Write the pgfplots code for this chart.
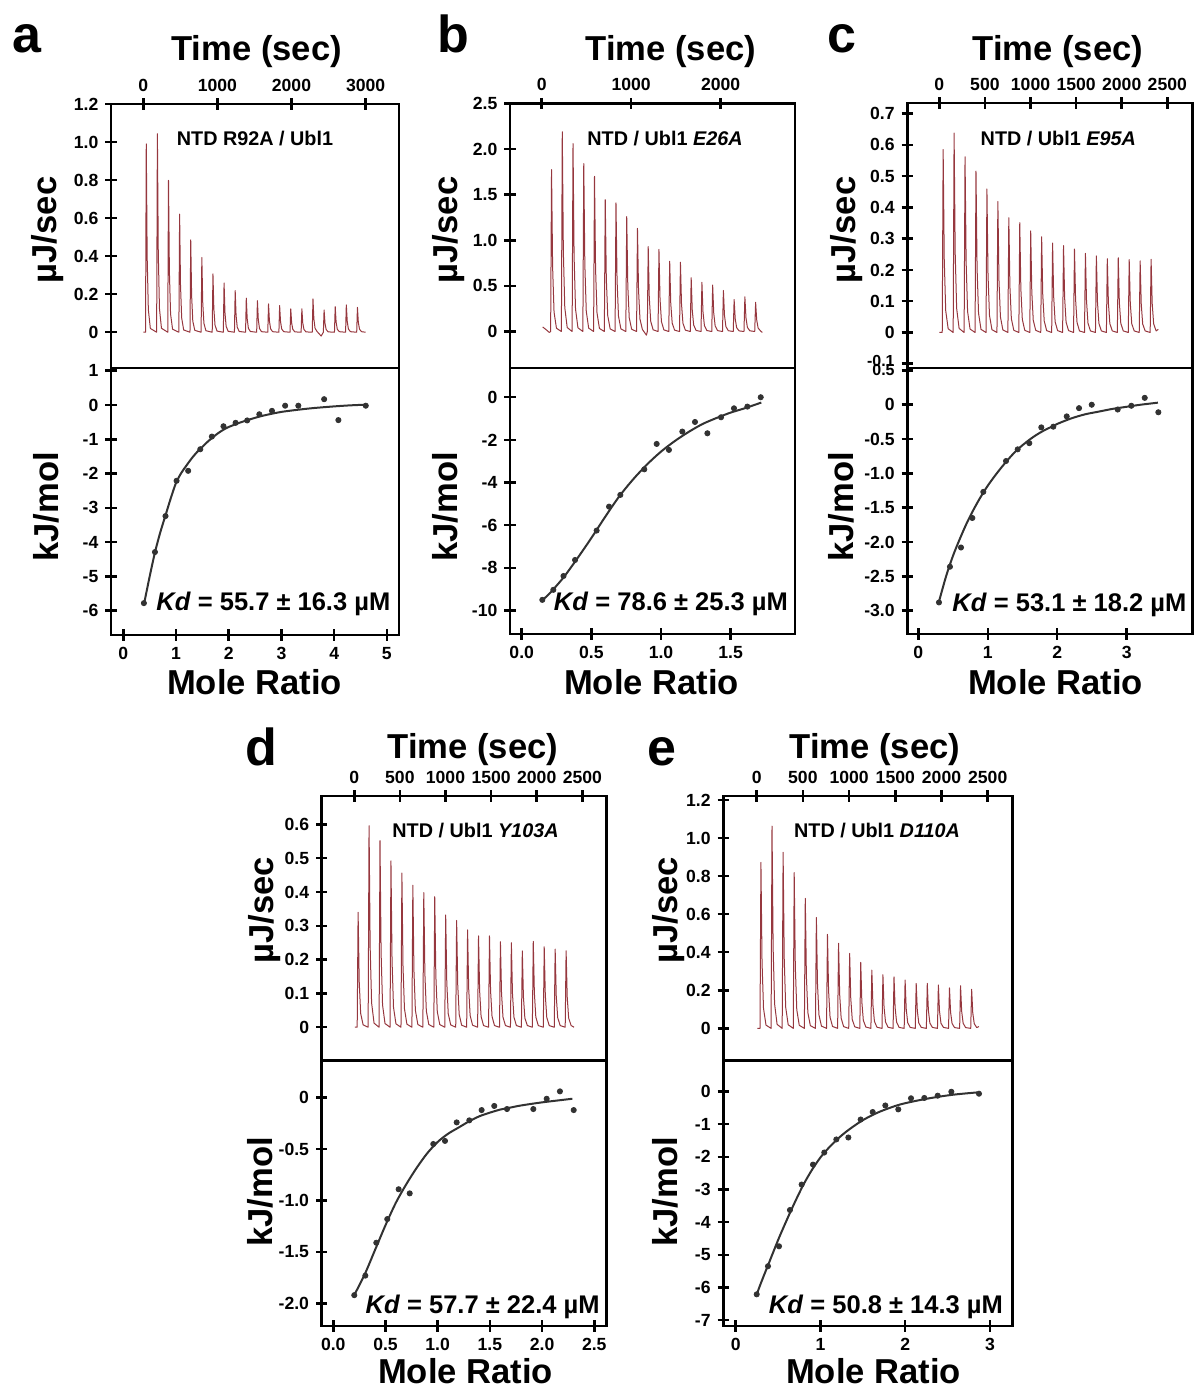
\documentclass[border=0pt]{standalone}
\usepackage{fontspec}
\setmainfont{Liberation Sans}
\usepackage{pgfplots}
\pgfplotsset{compat=1.18}

\definecolor{trace}{RGB}{150,55,62}
\definecolor{fitc}{RGB}{50,50,50}
\newcommand\tlf{\fontsize{8.8}{10}\selectfont\bfseries}
\newcommand\tls{\fontsize{8}{9}\selectfont\bfseries}
\newcommand\labf{\fontsize{17.3}{19}\selectfont\bfseries}
\newcommand\insf{\fontsize{9.9}{11}\selectfont\bfseries}
\newcommand\kdf{\fontsize{12.75}{14}\selectfont\bfseries}
\newcommand\letf{\fontsize{26}{28}\selectfont\bfseries}

\pgfplotsset{
  itc/.style={scale only axis, anchor=south west, scaled ticks=false,
    axis line style={line width=1.25pt},
    xtick style={draw=black, line width=1.25pt},
    ytick style={draw=black, line width=1.25pt},
    major tick length=5.6pt, tick align=center, ytick pos=left,
    tick label style={font=\tlf}},
  topax/.style={itc, xtick pos=right, xticklabel pos=right},
  botax/.style={itc, xtick pos=left, xticklabel pos=left},
  raw/.style={trace, line width=0.5pt, line join=round},
  pts/.style={only marks, mark=*, mark size=1.3pt, fitc},
  fit/.style={fitc, line width=1pt, smooth},
}

\begin{document}
\begin{tikzpicture}

% ---------- a ----------
\begin{axis}[topax, at={(55.5pt,-184pt)}, width=144pt, height=132pt,
  xmin=-436, xmax=3451, ymin=-0.188, ymax=1.2,
  xtick={0,1000,2000,3000}, xticklabels={0,1000,2000,3000},
  ytick={0,0.2,0.4,0.6,0.8,1.0,1.2}, yticklabels={0,0.2,0.4,0.6,0.8,1.0,1.2}]
\addplot[raw] coordinates {(0,0)
(30,0) (40,.99) (52,.396) (68,.119) (95,.02)
(180,0) (190,1.044) (202,.418) (218,.125) (245,.021)
(330,0) (340,.798) (352,.319) (368,.096) (395,.016)
(480,0) (490,.621) (502,.248) (518,.075) (545,.012)
(630,0) (640,.486) (652,.194) (668,.058) (695,.01)
(780,0) (790,.393) (802,.157) (818,.047) (845,.008)
(930,0) (940,.307) (952,.123) (968,.037) (995,.006)
(1080,0) (1090,.259) (1102,.104) (1118,.031) (1145,.005)
(1230,0) (1240,.219) (1252,.088) (1268,.026) (1295,.004)
(1380,0) (1390,.179) (1402,.072) (1418,.021) (1445,.004)
(1530,0) (1540,.166) (1552,.066) (1568,.02) (1595,.003)
(1680,0) (1690,.149) (1702,.06) (1718,.018) (1745,.003)
(1830,0) (1840,.14) (1852,.056) (1868,.017) (1895,.003)
(1980,0) (1990,.123) (2002,.049) (2018,.015) (2045,.002)
(2130,0) (2140,.123) (2152,.049) (2168,.015) (2195,.002)
(2280,0) (2290,.175) (2302,.07) (2318,.021) (2345,.004) (2400,-.02)
(2430,0) (2440,.117) (2452,.047) (2468,.014) (2495,.002)
(2580,0) (2590,.135) (2602,.054) (2618,.016) (2645,.003)
(2730,0) (2740,.144) (2752,.058) (2768,.017) (2795,.003)
(2880,0) (2890,.131) (2902,.052) (2918,.016) (2945,.003)
(3000,0)};
\end{axis}
\begin{axis}[botax, at={(55.5pt,-317.5pt)}, width=144pt, height=133.5pt,
  xmin=-0.234, xmax=5.23, ymin=-6.71, ymax=1.08,
  xtick={0,1,2,3,4,5}, xticklabels={0,1,2,3,4,5},
  ytick={-6,-5,-4,-3,-2,-1,0,1}, yticklabels={-6,-5,-4,-3,-2,-1,0,1}]
\addplot[fit] coordinates {(0.4,-5.75) (0.5,-5.0) (0.6,-4.3) (0.7,-3.72) (0.8,-3.22) (0.9,-2.72) (1.0,-2.27) (1.1,-1.98) (1.2,-1.76) (1.3,-1.55) (1.4,-1.37) (1.5,-1.22) (1.6,-1.07) (1.7,-0.94) (1.8,-0.82) (1.9,-0.72) (2.0,-0.64) (2.2,-0.52) (2.4,-0.42) (2.6,-0.33) (2.8,-0.26) (3.0,-0.2) (3.3,-0.14) (3.6,-0.09) (4.0,-0.04) (4.3,-0.01) (4.6,0.01)};
\addplot[pts] coordinates {(0.39,-5.78) (0.60,-4.29) (0.80,-3.24) (1.01,-2.21) (1.23,-1.92) (1.46,-1.29) (1.68,-0.92) (1.90,-0.62) (2.13,-0.52) (2.35,-0.45) (2.58,-0.27) (2.82,-0.17) (3.07,-0.02) (3.32,-0.02) (3.81,0.17) (4.08,-0.44) (4.60,-0.02)};
\end{axis}

% ---------- b ----------
\begin{axis}[topax, at={(255pt,-184pt)}, width=142.5pt, height=132.25pt,
  xmin=-354, xmax=2830, ymin=-0.40, ymax=2.5,
  xtick={0,1000,2000}, xticklabels={0,1000,2000},
  ytick={0,0.5,1.0,1.5,2.0,2.5}, yticklabels={0,0.5,1.0,1.5,2.0,2.5}]
\addplot[raw] coordinates {(11,.05) (50,.02) (85,-.01)
(100,0) (110,1.775) (122,.71) (138,.213) (165,.036)
(220,0) (230,2.19) (242,.876) (258,.263) (285,.044)
(340,0) (350,2.06) (362,.824) (378,.247) (405,.041)
(460,0) (470,1.84) (482,.736) (498,.221) (525,.037)
(580,0) (590,1.70) (602,.68) (618,.204) (645,.034)
(700,0) (710,1.445) (722,.578) (738,.173) (765,.029)
(820,0) (830,1.41) (842,.564) (858,.169) (885,.028)
(940,0) (950,1.26) (962,.504) (978,.151) (1005,.025)
(1060,0) (1070,1.13) (1082,.452) (1098,.136) (1125,.023) (1170,-.04)
(1180,0) (1190,.93) (1202,.372) (1218,.112) (1245,.019)
(1300,0) (1310,.90) (1322,.36) (1338,.108) (1365,.018)
(1420,0) (1430,.77) (1442,.308) (1458,.092) (1485,.015)
(1540,0) (1550,.76) (1562,.304) (1578,.091) (1605,.015)
(1660,0) (1670,.59) (1682,.236) (1698,.071) (1725,.012)
(1780,0) (1790,.54) (1802,.216) (1818,.065) (1845,.011)
(1900,0) (1910,.51) (1922,.204) (1938,.061) (1965,.01)
(2020,0) (2030,.45) (2042,.18) (2058,.054) (2085,.009)
(2140,0) (2150,.35) (2162,.14) (2178,.042) (2205,.007)
(2260,0) (2270,.38) (2282,.152) (2298,.046) (2325,.008)
(2380,0) (2390,.32) (2402,.128) (2418,.038) (2445,.006)
(2465,-.01)};
\end{axis}
\begin{axis}[botax, at={(255pt,-317pt)}, width=142.5pt, height=133pt,
  xmin=-0.084, xmax=1.962, ymin=-11.1, ymax=1.37,
  xtick={0,0.5,1,1.5}, xticklabels={0.0,0.5,1.0,1.5},
  ytick={-10,-8,-6,-4,-2,0}, yticklabels={-10,-8,-6,-4,-2,0}]
\addplot[fit] coordinates {(0.15,-9.5) (0.2,-9.2) (0.3,-8.45) (0.4,-7.55) (0.5,-6.6) (0.6,-5.6) (0.7,-4.65) (0.8,-3.85) (0.9,-3.15) (1.0,-2.55) (1.1,-2.05) (1.2,-1.62) (1.3,-1.25) (1.4,-0.97) (1.5,-0.72) (1.6,-0.52) (1.72,-0.25)};
\addplot[pts] coordinates {(0.148,-9.50) (0.227,-9.03) (0.30,-8.38) (0.383,-7.63) (0.538,-6.25) (0.627,-5.13) (0.708,-4.58) (0.88,-3.38) (0.969,-2.19) (1.057,-2.47) (1.153,-1.61) (1.244,-1.16) (1.333,-1.69) (1.431,-0.94) (1.524,-0.52) (1.62,-0.44) (1.716,0)};
\end{axis}

% ---------- c ----------
\begin{axis}[topax, at={(453.65pt,-184pt)}, width=142.5pt, height=132.5pt,
  xmin=-351, xmax=2774, ymin=-0.1136, ymax=0.734,
  yticklabel style={inner ysep=0.5pt},
  xtick={0,500,1000,1500,2000,2500}, xticklabels={0,500,1000,1500,2000,2500},
  ytick={-0.1,0,0.1,0.2,0.3,0.4,0.5,0.6,0.7}, yticklabels={\raisebox{3.3pt}{\tls -0.1},0,0.1,0.2,0.3,0.4,0.5,0.6,0.7}]
\addplot[raw] coordinates {(0,0)
(32,0) (42,.585) (54,.234) (70,.07) (97,.012)
(152,0) (162,.638) (174,.255) (190,.077) (217,.013)
(272,0) (282,.562) (294,.225) (310,.067) (337,.011)
(392,0) (402,.516) (414,.206) (430,.062) (457,.01)
(512,0) (522,.459) (534,.184) (550,.055) (577,.009)
(632,0) (642,.419) (654,.168) (670,.05) (697,.008)
(752,0) (762,.367) (774,.147) (790,.044) (817,.007)
(872,0) (882,.351) (894,.14) (910,.042) (937,.007)
(992,0) (1002,.325) (1014,.13) (1030,.039) (1057,.007)
(1112,0) (1122,.306) (1134,.122) (1150,.037) (1177,.006)
(1232,0) (1242,.286) (1254,.114) (1270,.034) (1297,.006)
(1352,0) (1362,.278) (1374,.111) (1390,.033) (1417,.006)
(1472,0) (1482,.267) (1494,.107) (1510,.032) (1537,.005)
(1592,0) (1602,.253) (1614,.101) (1630,.03) (1657,.005)
(1712,0) (1722,.245) (1734,.098) (1750,.029) (1777,.005)
(1832,0) (1842,.236) (1854,.094) (1870,.028) (1897,.005)
(1952,0) (1962,.239) (1974,.096) (1990,.029) (2017,.005)
(2072,0) (2082,.233) (2094,.093) (2110,.028) (2137,.005)
(2192,0) (2202,.229) (2214,.092) (2230,.027) (2257,.005)
(2312,0) (2322,.234) (2334,.094) (2350,.028) (2377,.005)
(2401,.01)};
\end{axis}
\begin{axis}[botax, at={(453.65pt,-317pt)}, width=142.5pt, height=133pt,
  xmin=-0.158, xmax=3.945, ymin=-3.34, ymax=0.535,
  yticklabel style={inner ysep=0.5pt},
  xtick={0,1,2,3}, xticklabels={0,1,2,3},
  ytick={-3,-2.5,-2,-1.5,-1,-0.5,0,0.5}, yticklabels={-3.0,-2.5,-2.0,-1.5,-1.0,-0.5,0,\raisebox{-2.8pt}{\tls 0.5}}]
\addplot[fit] coordinates {(0.3,-2.86) (0.4,-2.5) (0.5,-2.2) (0.6,-1.95) (0.7,-1.72) (0.8,-1.52) (0.9,-1.34) (1.0,-1.18) (1.1,-1.04) (1.2,-0.91) (1.3,-0.79) (1.4,-0.68) (1.5,-0.59) (1.6,-0.51) (1.7,-0.44) (1.8,-0.38) (1.9,-0.33) (2.0,-0.28) (2.2,-0.2) (2.4,-0.14) (2.6,-0.1) (2.8,-0.06) (3.0,-0.03) (3.2,0.0) (3.45,0.03)};
\addplot[pts] coordinates {(0.298,-2.88) (0.456,-2.36) (0.615,-2.08) (0.778,-1.65) (0.936,-1.27) (1.263,-0.82) (1.431,-0.65) (1.598,-0.56) (1.771,-0.33) (1.944,-0.32) (2.137,-0.17) (2.314,-0.05) (2.497,0.0) (2.871,-0.07) (3.067,-0.015) (3.26,0.10) (3.456,-0.11)};
\end{axis}

% ---------- d ----------
\begin{axis}[topax, at={(160.85pt,-530.35pt)}, width=142.5pt, height=132.35pt,
  xmin=-357, xmax=2767, ymin=-0.099, ymax=0.684,
  xtick={0,500,1000,1500,2000,2500}, xticklabels={0,500,1000,1500,2000,2500},
  ytick={0,0.1,0.2,0.3,0.4,0.5,0.6}, yticklabels={0,0.1,0.2,0.3,0.4,0.5,0.6}]
\addplot[raw] coordinates {(7,0)
(32,0) (42,.34) (54,.136) (70,.041) (97,.007)
(152,0) (162,.596) (174,.238) (190,.072) (217,.012)
(272,0) (282,.552) (294,.221) (310,.066) (337,.011)
(392,0) (402,.492) (414,.197) (430,.059) (457,.01)
(512,0) (522,.456) (534,.182) (550,.055) (577,.009)
(632,0) (642,.42) (654,.168) (670,.05) (697,.008)
(752,0) (762,.398) (774,.159) (790,.048) (817,.008)
(872,0) (882,.386) (894,.154) (910,.046) (937,.008)
(992,0) (1002,.332) (1014,.133) (1030,.04) (1057,.007)
(1112,0) (1122,.316) (1134,.126) (1150,.038) (1177,.006)
(1232,0) (1242,.288) (1254,.115) (1270,.035) (1297,.006)
(1352,0) (1362,.27) (1374,.108) (1390,.032) (1417,.005)
(1472,0) (1482,.27) (1494,.108) (1510,.032) (1537,.005)
(1592,0) (1602,.253) (1614,.101) (1630,.03) (1657,.005)
(1712,0) (1722,.25) (1734,.1) (1750,.03) (1777,.005)
(1832,0) (1842,.226) (1854,.09) (1870,.027) (1897,.005)
(1952,0) (1962,.254) (1974,.102) (1990,.03) (2017,.005)
(2072,0) (2082,.238) (2094,.095) (2110,.029) (2137,.005)
(2192,0) (2202,.231) (2214,.092) (2230,.028) (2257,.005)
(2312,0) (2322,.226) (2334,.09) (2350,.027) (2377,.005)
(2409,0)};
\end{axis}
\begin{axis}[botax, at={(160.85pt,-663pt)}, width=142.5pt, height=132.65pt,
  xmin=-0.111, xmax=2.619, ymin=-2.22, ymax=0.36,
  xtick={0,0.5,1,1.5,2,2.5}, xticklabels={0.0,0.5,1.0,1.5,2.0,2.5},
  ytick={-2,-1.5,-1,-0.5,0}, yticklabels={-2.0,-1.5,-1.0,-0.5,0}]
\addplot[fit] coordinates {(0.2,-1.92) (0.3,-1.72) (0.4,-1.48) (0.5,-1.24) (0.6,-1.02) (0.7,-0.84) (0.8,-0.68) (0.9,-0.54) (1.0,-0.43) (1.1,-0.35) (1.2,-0.29) (1.3,-0.23) (1.4,-0.18) (1.5,-0.145) (1.6,-0.115) (1.7,-0.095) (1.8,-0.075) (2.0,-0.045) (2.29,-0.01)};
\addplot[pts] coordinates {(0.201,-1.92) (0.307,-1.73) (0.412,-1.41) (0.517,-1.18) (0.626,-0.89) (0.732,-0.93) (0.958,-0.45) (1.07,-0.42) (1.182,-0.24) (1.303,-0.22) (1.421,-0.12) (1.542,-0.08) (1.664,-0.11) (1.916,-0.11) (2.044,-0.01) (2.171,0.062) (2.303,-0.12)};
\end{axis}

% ---------- e ----------
\begin{axis}[topax, at={(361.65pt,-530.35pt)}, width=144.5pt, height=132.35pt,
  xmin=-361, xmax=2766, ymin=-0.17, ymax=1.221,
  xtick={0,500,1000,1500,2000,2500}, xticklabels={0,500,1000,1500,2000,2500},
  ytick={0,0.2,0.4,0.6,0.8,1.0,1.2}, yticklabels={0,0.2,0.4,0.6,0.8,1.0,1.2}]
\addplot[raw] coordinates {(7,0)
(36,0) (46,.872) (58,.349) (74,.105) (101,.017)
(156,0) (166,1.063) (178,.425) (194,.128) (221,.021)
(276,0) (286,.925) (298,.37) (314,.111) (341,.019)
(396,0) (406,.818) (418,.327) (434,.098) (461,.016)
(516,0) (526,.683) (538,.273) (554,.082) (581,.014)
(636,0) (646,.583) (658,.233) (674,.07) (701,.012)
(756,0) (766,.494) (778,.198) (794,.059) (821,.01)
(876,0) (886,.447) (898,.179) (914,.054) (941,.009)
(996,0) (1006,.394) (1018,.158) (1034,.047) (1061,.008)
(1116,0) (1126,.347) (1138,.139) (1154,.042) (1181,.007)
(1236,0) (1246,.306) (1258,.122) (1274,.037) (1301,.006)
(1356,0) (1366,.282) (1378,.113) (1394,.034) (1421,.006)
(1476,0) (1486,.271) (1498,.108) (1514,.033) (1541,.005)
(1596,0) (1606,.254) (1618,.102) (1634,.03) (1661,.005)
(1716,0) (1726,.236) (1738,.094) (1754,.028) (1781,.005)
(1836,0) (1846,.236) (1858,.094) (1874,.028) (1901,.005)
(1956,0) (1966,.228) (1978,.091) (1994,.027) (2021,.005)
(2076,0) (2086,.213) (2098,.085) (2114,.026) (2141,.004)
(2196,0) (2206,.224) (2218,.09) (2234,.027) (2261,.004)
(2316,0) (2326,.205) (2338,.082) (2354,.025) (2381,.004)
(2405,.01)};
\end{axis}
\begin{axis}[botax, at={(361.65pt,-663pt)}, width=144.5pt, height=132.65pt,
  xmin=-0.146, xmax=3.263, ymin=-7.18, ymax=0.94,
  xtick={0,1,2,3}, xticklabels={0,1,2,3},
  ytick={-7,-6,-5,-4,-3,-2,-1,0}, yticklabels={-7,-6,-5,-4,-3,-2,-1,0}]
\addplot[fit] coordinates {(0.25,-6.2) (0.3,-5.85) (0.4,-5.2) (0.5,-4.55) (0.6,-3.95) (0.7,-3.38) (0.8,-2.85) (0.9,-2.4) (1.0,-2.02) (1.1,-1.72) (1.2,-1.46) (1.3,-1.24) (1.4,-1.05) (1.5,-0.88) (1.6,-0.74) (1.7,-0.62) (1.8,-0.52) (1.9,-0.43) (2.0,-0.36) (2.2,-0.25) (2.4,-0.16) (2.6,-0.09) (2.85,-0.03)};
\addplot[pts] coordinates {(0.248,-6.21) (0.381,-5.35) (0.511,-4.74) (0.64,-3.63) (0.778,-2.85) (0.912,-2.24) (1.045,-1.87) (1.187,-1.47) (1.329,-1.41) (1.474,-0.86) (1.616,-0.63) (1.765,-0.43) (1.918,-0.55) (2.068,-0.21) (2.225,-0.20) (2.383,-0.13) (2.544,-0.01) (2.87,-0.07)};
\end{axis}

% ---------- texts (pixel grid of the reference) ----------
\begin{scope}[x=0.5pt, y=-0.5pt]
\node[anchor=base west, inner sep=0, font=\letf] at (12,53) {a};
\node[anchor=base west, inner sep=0, font=\letf] at (437,53) {b};
\node[anchor=base west, inner sep=0, font=\letf] at (827,53) {c};
\node[anchor=base west, inner sep=0, font=\letf] at (245,765) {d};
\node[anchor=base west, inner sep=0, font=\letf] at (647,765) {e};

\node[anchor=base, inner sep=0, font=\labf] at (256.7,61) {Time (sec)};
\node[anchor=base, inner sep=0, font=\labf] at (670.8,61) {Time (sec)};
\node[anchor=base, inner sep=0, font=\labf] at (1058,61) {Time (sec)};
\node[anchor=base, inner sep=0, font=\labf] at (473,758) {Time (sec)};
\node[anchor=base, inner sep=0, font=\labf] at (875,758) {Time (sec)};

\node[anchor=base, inner sep=0, font=\labf] at (254.5,694) {Mole Ratio};
\node[anchor=base, inner sep=0, font=\labf] at (651.5,694) {Mole Ratio};
\node[anchor=base, inner sep=0, font=\labf] at (1055.5,694) {Mole Ratio};
\node[anchor=base, inner sep=0, font=\labf] at (465.5,1383) {Mole Ratio};
\node[anchor=base, inner sep=0, font=\labf] at (873.5,1383) {Mole Ratio};

\node[rotate=90, inner sep=0, font=\labf] at (48,230) {µJ/sec};
\node[rotate=90, inner sep=0, font=\labf] at (448.5,230) {µJ/sec};
\node[rotate=90, inner sep=0, font=\labf] at (846.5,230) {µJ/sec};
\node[rotate=90, inner sep=0, font=\labf] at (265,910) {µJ/sec};
\node[rotate=90, inner sep=0, font=\labf] at (669,910) {µJ/sec};

\node[rotate=90, inner sep=0, font=\labf] at (46,507) {kJ/mol};
\node[rotate=90, inner sep=0, font=\labf] at (445,507) {kJ/mol};
\node[rotate=90, inner sep=0, font=\labf] at (841,507) {kJ/mol};
\node[rotate=90, inner sep=0, font=\labf] at (260,1192) {kJ/mol};
\node[rotate=90, inner sep=0, font=\labf] at (665,1192) {kJ/mol};

\node[anchor=base, inner sep=0, font=\insf] at (255,145.7) {NTD R92A / Ubl1};
\node[anchor=base, inner sep=0, font=\insf] at (665,145.7) {NTD / Ubl1 \textit{E26A}};
\node[anchor=base, inner sep=0, font=\insf] at (1058.3,145.7) {NTD / Ubl1 \textit{E95A}};
\node[anchor=base, inner sep=0, font=\insf] at (475.5,837.3) {NTD / Ubl1 \textit{Y103A}};
\node[anchor=base, inner sep=0, font=\insf] at (877,837.3) {NTD / Ubl1 \textit{D110A}};

\node[anchor=base east, inner sep=0, font=\kdf] at (390.7,610.7) {\textit{Kd} = 55.7 ± 16.3 µM};
\node[anchor=base east, inner sep=0, font=\kdf] at (788.3,610.7) {\textit{Kd} = 78.6 ± 25.3 µM};
\node[anchor=base east, inner sep=0, font=\kdf] at (1186.7,611.7) {\textit{Kd} = 53.1 ± 18.2 µM};
\node[anchor=base east, inner sep=0, font=\kdf] at (600,1313) {\textit{Kd} = 57.7 ± 22.4 µM};
\node[anchor=base east, inner sep=0, font=\kdf] at (1003.3,1313) {\textit{Kd} = 50.8 ± 14.3 µM};
\end{scope}

\pgfresetboundingbox
\path[use as bounding box] (0,0) rectangle (597pt,-695.5pt);
\end{tikzpicture}
\end{document}
